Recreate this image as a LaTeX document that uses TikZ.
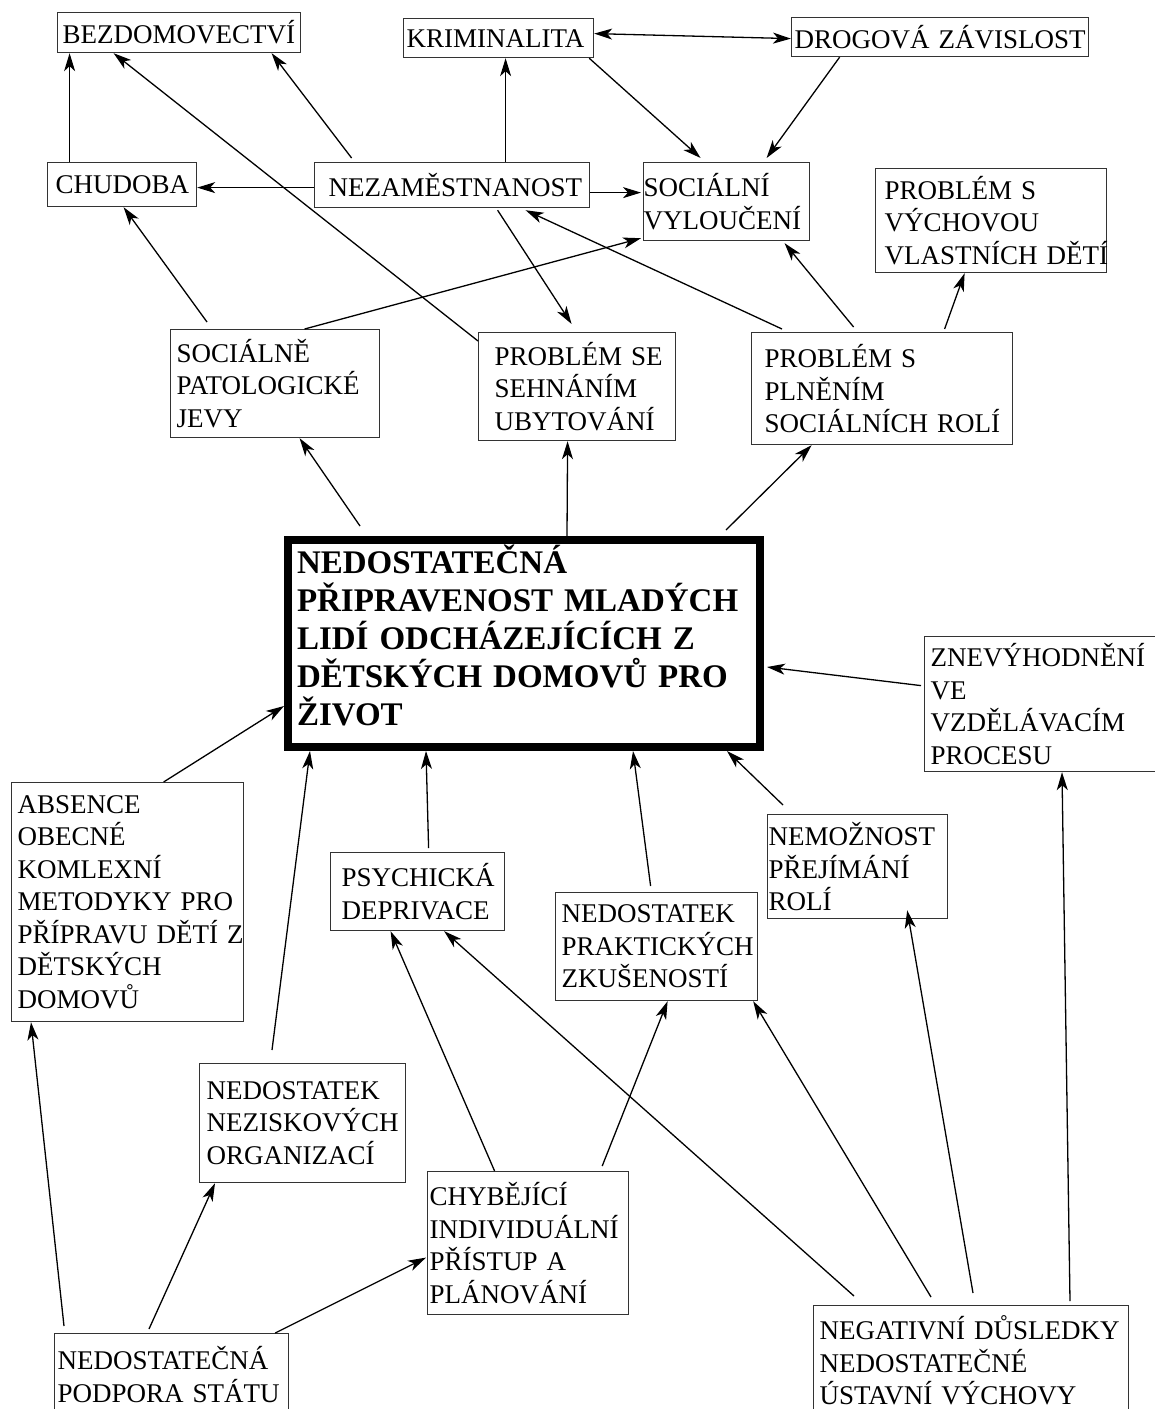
\documentclass[tikz,border=0pt]{standalone}
\usepackage{fontspec}
\setmainfont{Liberation Serif}
\usepackage{tikz}
\usetikzlibrary{positioning, arrows.meta, shapes}
\hyphenpenalty=10000
\exhyphenpenalty=10000
\definecolor{boxgray}{HTML}{333333}
\tikzstyle{box} = [rectangle, draw=boxgray, line width=1.2pt, anchor=north west,
align=left, inner ysep=0pt]
\tikzstyle{mainbox} = [rectangle, draw=black, line width=8pt, anchor=north west,
align=left, inner ysep=0pt, font=\fontsize{33}{38}\selectfont\bfseries]
\tikzstyle{arrow} = [line width=1.3pt,->,>={Stealth[length=18pt,width=11pt,inset=5pt]}]

\begin{document}
\begin{tikzpicture}[x=1pt, y=-1pt]
    \tikzstyle{every node}=[font=\fontsize{27}{32.5}\selectfont]
    \useasboundingbox (0,0) rectangle (1155,1409);
    % top row
    \node (bezdom) [box, inner xsep=5pt, text width=233pt, minimum height=40pt] at (57,12) {BEZDOMOVECTVÍ};
    \node (krim) [box, inner xsep=3pt, text width=184pt, minimum height=39pt] at (403,18) {KRIMINALITA};
    \node (drogy) [box, inner xsep=3pt, text width=291pt, minimum height=39pt] at (791,17) {\mbox{DROGOVÁ ZÁVISLOST}};
    \node (chudoba) [box, inner xsep=8pt, text width=133pt, minimum height=44pt] at (47,162) {CHUDOBA};
    \node (nezam) [box, inner xsep=14pt, text width=247pt, minimum height=45pt] at (314,162) {NEZAMĚSTNANOST};
    \node (socvyl) [box, inner xsep=0pt, text width=166pt, minimum height=78pt] at (643,162) {SOCIÁLNÍ\\VYLOUČENÍ};
    \node (vychova) [box, inner xsep=9pt, text width=213pt, minimum height=104pt] at (875,168) {PROBLÉM~S\\VÝCHOVOU\\VLASTNÍCH~DĚTÍ};
    \node (patol) [box, inner xsep=6pt, text width=197pt, minimum height=108pt] at (170,329) {SOCIÁLNĚ\\PATOLOGICKÉ\\JEVY};
    \node (ubyt) [box, inner xsep=16pt, text width=165pt, minimum height=108pt] at (478,332) {PROBLÉM~SE\\SEHNÁNÍM\\UBYTOVÁNÍ};
    \node (role) [box, inner xsep=13pt, text width=235pt, minimum height=112pt] at (751,332) {PROBLÉM~S\\PLNĚNÍM\\SOCIÁLNÍCH~ROLÍ};
    % central problem
    \node (hlavni) [mainbox, inner xsep=9pt, text width=454pt, minimum height=207pt] at (284,536)
        {NEDOSTATEČNÁ\\PŘIPRAVENOST~MLADÝCH\\LIDÍ~ODCHÁZEJÍCÍCH~Z\\DĚTSKÝCH~DOMOVŮ~PRO\\ŽIVOT\rule[-16pt]{0pt}{16pt}};
    % causes
    \node (znevyh) [box, inner xsep=6pt, text width=222pt, minimum height=135pt] at (924,636) {ZNEVÝHODNĚNÍ\\VE\\VZDĚLÁVACÍM\\PROCESU};
    \node (absence) [box, inner xsep=6pt, text width=220pt, minimum height=239pt] at (11,782) {ABSENCE\\OBECNÉ\\KOMLEXNÍ\\METODYKY~PRO\\PŘÍPRAVU~DĚTÍ~Z\\DĚTSKÝCH\\DOMOVŮ};
    \node (psych) [box, inner xsep=11pt, text width=152pt, minimum height=78pt] at (330,852) {PSYCHICKÁ\\DEPRIVACE};
    \node (prakt) [box, inner xsep=6pt, text width=190pt, minimum height=108pt] at (555,892) {NEDOSTATEK\\PRAKTICKÝCH\\ZKUŠENOSTÍ};
    \node (nemoz) [box, inner xsep=1pt, text width=178pt, minimum height=104pt] at (767,814) {NEMOŽNOST\\PŘEJÍMÁNÍ\\ROLÍ};
    \node (nezisk) [box, inner xsep=7pt, text width=192pt, minimum height=119pt] at (199,1063) {NEDOSTATEK\\NEZISKOVÝCH\\ORGANIZACÍ};
    \node (chybi) [box, inner xsep=2pt, text width=197pt, minimum height=143pt] at (427,1171) {CHYBĚJÍCÍ\\INDIVIDUÁLNÍ\\PŘÍSTUP~A\\PLÁNOVÁNÍ};
    \node (podpora) [box, inner xsep=3pt, text width=228pt, minimum height=82pt] at (54,1333) {NEDOSTATEČNÁ\\PODPORA~STÁTU};
    \node (negat) [box, inner xsep=6pt, text width=303pt, minimum height=110pt] at (813,1305) {NEGATIVNÍ~DŮSLEDKY\\NEDOSTATEČNÉ\\ÚSTAVNÍ~VÝCHOVY};

    % upper links
    \draw [arrow] ([xshift=-52.5pt]chudoba.north) -- ([xshift=-109.5pt]bezdom.south);
    \draw [arrow] ([xshift=-100.5pt,yshift=4pt]nezam.north) -- ([xshift=92.5pt]bezdom.south);
    \draw [arrow] ([yshift=-9pt]ubyt.north west) -- ([xshift=-65.5pt]bezdom.south);
    \draw [arrow] ([xshift=53.5pt]nezam.north) -- ([xshift=7pt]krim.south);
    \draw [arrow, <->] ([yshift=4.5pt]krim.east) -- ([yshift=-1.5pt]drogy.west);
    \draw [arrow] ([xshift=-5pt]krim.south east) -- ([xshift=-26pt,yshift=4pt]socvyl.north);
    \draw [arrow] ([xshift=-100.5pt]drogy.south) -- ([xshift=40pt,yshift=4pt]socvyl.north);
    \draw [arrow] ([yshift=-2.5pt]nezam.west) -- ([yshift=-3pt]chudoba.east);
    \draw [arrow] ([yshift=-7.5pt]nezam.east) -- ([xshift=-2pt,yshift=9pt]socvyl.west);
    \draw [arrow] ([xshift=45.5pt,yshift=-2pt]nezam.south) -- ([xshift=-5.5pt,yshift=8pt]ubyt.north);
    \draw [arrow] ([xshift=31pt,yshift=3pt]role.north west) -- ([xshift=73.5pt,yshift=-2pt]nezam.south);
    \draw [arrow] ([xshift=37pt,yshift=7pt]patol.north west) -- ([xshift=1.5pt]chudoba.south);
    \draw [arrow] ([xshift=29.5pt]patol.north) -- ([xshift=-2pt,yshift=3pt]socvyl.south west);
    \draw [arrow] ([xshift=-28.5pt,yshift=5pt]role.north) -- ([xshift=58pt,yshift=-2pt]socvyl.south);
    \draw [arrow] ([xshift=62.5pt,yshift=3pt]role.north) -- ([xshift=-26.5pt]vychova.south);
    % out of the central box
    \draw [arrow] ([xshift=-164pt,yshift=10pt]hlavni.north) -- ([xshift=24.5pt]patol.south);
    \draw [arrow] ([xshift=43pt]hlavni.north) -- ([xshift=-9.5pt]ubyt.south);
    \draw [arrow] ([xshift=202pt,yshift=6pt]hlavni.north) -- ([xshift=-70.5pt]role.south);
    % into the central box
    \draw [arrow] ([xshift=-3pt,yshift=18.5pt]znevyh.west) -- ([xshift=3pt,yshift=-23.5pt]hlavni.east);
    \draw [arrow] ([xshift=36pt]absence.north) -- ([yshift=-62.5pt]hlavni.west);
    \draw [arrow] ([xshift=73pt,yshift=13pt]nezisk.north west) -- ([xshift=26pt]hlavni.south west);
    \draw [arrow] ([xshift=11pt,yshift=4pt]psych.north) -- ([xshift=-98pt]hlavni.south);
    \draw [arrow] ([xshift=-6pt,yshift=6pt]prakt.north) -- ([xshift=109pt]hlavni.south);
    \draw [arrow] ([xshift=16pt,yshift=9pt]nemoz.north west) -- ([xshift=-37pt]hlavni.south east);
    % lower links
    \draw [arrow] ([xshift=10pt,yshift=7pt]podpora.north west) -- ([xshift=20pt]absence.south west);
    \draw [arrow] ([xshift=95pt,yshift=4pt]podpora.north west) -- ([xshift=16pt]nezisk.south west);
    \draw [arrow] ([xshift=-14pt]podpora.north east) -- ([xshift=-1pt,yshift=-14.5pt]chybi.west);
    \draw [arrow] ([xshift=-33.5pt]chybi.north) -- ([xshift=-27pt]psych.south);
    \draw [arrow] ([xshift=-27pt,yshift=5pt]chybi.north east) -- ([xshift=11pt]prakt.south);
    \draw [arrow] ([xshift=41pt,yshift=9pt]negat.north west) -- ([xshift=-61pt]psych.south east);
    \draw [arrow] ([xshift=118pt,yshift=8pt]negat.north west) -- ([xshift=-5pt]prakt.south east);
    \draw [arrow] ([xshift=160pt,yshift=12pt]negat.north west) -- ([xshift=-41pt,yshift=9pt]nemoz.south east);
    \draw [arrow] ([xshift=257pt,yshift=4pt]negat.north west) -- ([xshift=138pt]znevyh.south west);
\end{tikzpicture}
\end{document}
